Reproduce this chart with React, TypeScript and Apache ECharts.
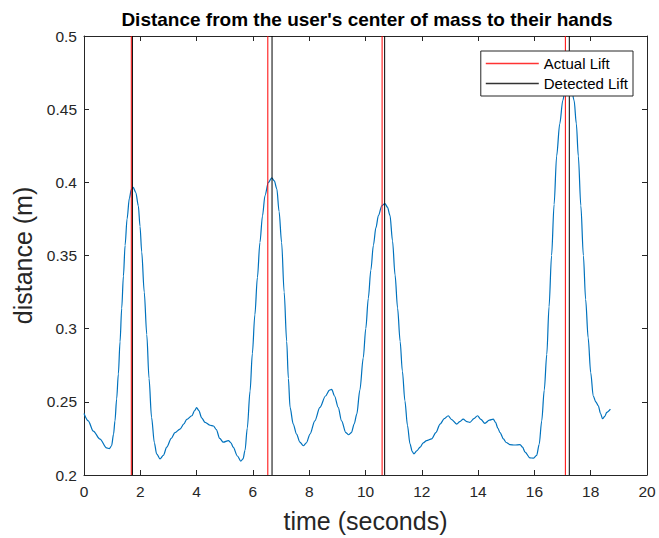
import React, { useEffect, useRef } from 'react';
import * as echarts from 'echarts';

// time (seconds)
const timeSec = [
  0.0, 0.15, 0.33, 0.57, 0.8, 0.9, 0.98, 1.05, 1.1, 1.16, 1.22, 1.28, 1.34, 1.4, 1.46, 1.53, 1.61, 1.68, 1.75,
  1.84, 1.93, 1.99, 2.05, 2.14, 2.23, 2.31, 2.4, 2.5, 2.58, 2.7, 2.82, 2.94, 3.1, 3.23, 3.41, 3.55, 3.65, 3.83,
  3.93, 4.0, 4.08, 4.18, 4.3, 4.48, 4.6, 4.7, 4.82, 4.95, 5.13, 5.22, 5.3, 5.45, 5.57, 5.65, 5.72, 5.8, 5.9,
  5.98, 6.07, 6.16, 6.25, 6.34, 6.43, 6.55, 6.67, 6.76, 6.85, 6.93, 7.02, 7.11, 7.2, 7.26, 7.32, 7.43, 7.55,
  7.67, 7.79, 7.9, 8.03, 8.2, 8.38, 8.58, 8.72, 8.8, 8.9, 9.03, 9.15, 9.3, 9.4, 9.5, 9.6, 9.69, 9.8, 9.92,
  10.01, 10.1, 10.19, 10.28, 10.37, 10.46, 10.58, 10.69, 10.78, 10.87, 10.96, 11.05, 11.14, 11.23, 11.31,
  11.4, 11.49, 11.58, 11.66, 11.72, 11.82, 11.94, 12.05, 12.17, 12.35, 12.5, 12.65, 12.8, 12.94, 13.05,
  13.24, 13.35, 13.47, 13.6, 13.71, 13.85, 13.98, 14.1, 14.24, 14.4, 14.54, 14.62, 14.7, 14.78, 14.9, 15.0,
  15.13, 15.3, 15.49, 15.58, 15.67, 15.84, 15.96, 16.08, 16.17, 16.26, 16.35, 16.44, 16.52, 16.61, 16.7,
  16.79, 16.9, 17.01, 17.11, 17.21, 17.31, 17.41, 17.49, 17.56, 17.65, 17.74, 17.82, 17.91, 18.0, 18.09,
  18.18, 18.27, 18.35, 18.42, 18.5, 18.57, 18.7,
];

// distance (m)
const distance = [
  0.242, 0.237, 0.23, 0.2245, 0.2185, 0.218, 0.22, 0.228, 0.237, 0.252, 0.269, 0.291, 0.314, 0.336, 0.357,
  0.375, 0.389, 0.395, 0.3965, 0.393, 0.384, 0.37, 0.3525, 0.325, 0.296, 0.266, 0.2394, 0.222, 0.2145, 0.211,
  0.2135, 0.219, 0.225, 0.229, 0.2314, 0.235, 0.238, 0.2405, 0.244, 0.246, 0.244, 0.239, 0.236, 0.234, 0.2335,
  0.231, 0.225, 0.2224, 0.2235, 0.222, 0.219, 0.213, 0.2095, 0.211, 0.2168, 0.232, 0.2575, 0.283, 0.3095,
  0.335, 0.359, 0.377, 0.391, 0.4, 0.403, 0.401, 0.3955, 0.38, 0.359, 0.325, 0.2914, 0.266, 0.2462, 0.235,
  0.228, 0.2225, 0.22, 0.222, 0.228, 0.237, 0.2462, 0.254, 0.258, 0.2585, 0.254, 0.2462, 0.237, 0.229, 0.2275,
  0.229, 0.235, 0.2416, 0.258, 0.28, 0.3, 0.3208, 0.34, 0.357, 0.369, 0.3774, 0.384, 0.3855, 0.383, 0.3774,
  0.36, 0.3367, 0.314, 0.2914, 0.271, 0.2507, 0.234, 0.2213, 0.216, 0.2145, 0.2165, 0.219, 0.222, 0.2235,
  0.2247, 0.229, 0.2348, 0.2385, 0.2405, 0.238, 0.2348, 0.2365, 0.2382, 0.2365, 0.236, 0.2385, 0.2405, 0.238,
  0.2353, 0.2375, 0.2382, 0.236, 0.232, 0.229, 0.2247, 0.2222, 0.2208, 0.2205, 0.2208, 0.219, 0.2156, 0.2117,
  0.2115, 0.2134, 0.221, 0.237, 0.258, 0.2824, 0.315, 0.35, 0.385, 0.418, 0.44, 0.456, 0.466, 0.469, 0.465,
  0.456, 0.44, 0.418, 0.384, 0.35, 0.32, 0.2937, 0.27, 0.254, 0.25, 0.2473, 0.242, 0.2385, 0.24, 0.2428, 0.245,
];

const actualLift = [1.68, 6.53, 10.59, 17.1];
const detectedLift = [1.72, 6.68, 10.68, 17.24];

const titleText = "Distance from the user's center of mass to their hands";
const xName = 'time (seconds)';
const yName = 'distance (m)';

export default function App() {
  const ref = useRef<HTMLDivElement>(null);

  useEffect(() => {
    if (!ref.current) return;
    const chart = echarts.init(ref.current, null, { renderer: 'svg' });
    const font = "'Liberation Sans', Arial, Helvetica, sans-serif";
    const axisColor = '#262626';

    const vline = (name: string, t: number, color: string) => ({
      name,
      type: 'line',
      data: [
        [t, 0.2],
        [t, 0.5],
      ],
      symbol: 'none',
      showSymbol: false,
      lineStyle: { color, width: 1 },
      itemStyle: { color },
      z: 3,
      silent: true,
    });

    const baseX = {
      type: 'value',
      min: 0,
      max: 20,
      interval: 2,
      splitLine: { show: false },
      axisLine: { show: true, onZero: false, lineStyle: { color: axisColor, width: 1 } },
      axisTick: { show: true, inside: true, length: 5, lineStyle: { color: axisColor } },
    };
    const baseY = {
      type: 'value',
      min: 0.2,
      max: 0.5,
      interval: 0.05,
      splitLine: { show: false },
      axisLine: { show: true, onZero: false, lineStyle: { color: axisColor, width: 1 } },
      axisTick: { show: true, inside: true, length: 5, lineStyle: { color: axisColor } },
    };

    chart.setOption({
      animation: false,
      backgroundColor: '#fff',
      grid: { left: 84, right: 12, top: 36, bottom: 60, containLabel: false },
      graphic: [
        {
          type: 'text',
          x: 367,
          y: 19,
          style: {
            text: titleText,
            fontFamily: font,
            fontSize: 19,
            fontWeight: 'bold',
            fill: '#000',
            textAlign: 'center',
            textVerticalAlign: 'middle',
          },
        },
      ],
      legend: {
        data: [
          { name: 'Actual Lift', icon: 'rect', itemStyle: { color: '#FF3333' } },
          { name: 'Detected Lift', icon: 'rect', itemStyle: { color: '#333333' } },
        ],
        orient: 'vertical',
        right: 26,
        top: 51,
        itemWidth: 53,
        itemHeight: 1.5,
        itemGap: 5,
        padding: [5, 5, 5, 5],
        backgroundColor: '#fff',
        borderColor: axisColor,
        borderWidth: 1,
        borderRadius: 0,
        textStyle: { fontFamily: font, fontSize: 15, color: '#000' },
        z: 10,
      },
      xAxis: [
        {
          ...baseX,
          position: 'bottom',
          name: xName,
          nameLocation: 'middle',
          nameGap: 33,
          nameTextStyle: { fontFamily: font, fontSize: 25, color: axisColor },
          axisLabel: { show: true, margin: 8, fontFamily: font, fontSize: 15.5, color: axisColor },
        },
        {
          ...baseX,
          position: 'top',
          axisLabel: { show: false },
        },
      ],
      yAxis: [
        {
          ...baseY,
          position: 'left',
          name: yName,
          nameLocation: 'middle',
          nameRotate: 90,
          nameGap: 48,
          nameTextStyle: { fontFamily: font, fontSize: 25, color: axisColor },
          axisLabel: {
            show: true,
            margin: 7,
            fontFamily: font,
            fontSize: 15.5,
            color: axisColor,
            formatter: (v: number) => String(+v.toFixed(2)),
          },
        },
        {
          ...baseY,
          position: 'right',
          axisLabel: { show: false },
        },
      ],
      series: [
        {
          name: 'distance',
          type: 'line',
          data: timeSec.map((t, i) => [t, distance[i]]),
          symbol: 'none',
          showSymbol: false,
          smooth: 0.3,
          smoothMonotone: 'x',
          lineStyle: { color: '#0072BD', width: 1.2 },
          itemStyle: { color: '#0072BD' },
          z: 2,
          silent: true,
        },
        ...actualLift.map((t) => vline('Actual Lift', t, '#FF0000')),
        ...detectedLift.map((t) => vline('Detected Lift', t, '#000000')),
      ],
    });

    return () => chart.dispose();
  }, []);

  return (
    <div
      ref={ref}
      style={{ position: 'absolute', left: 0, top: 0, width: 659, height: 538 }}
    />
  );
}
